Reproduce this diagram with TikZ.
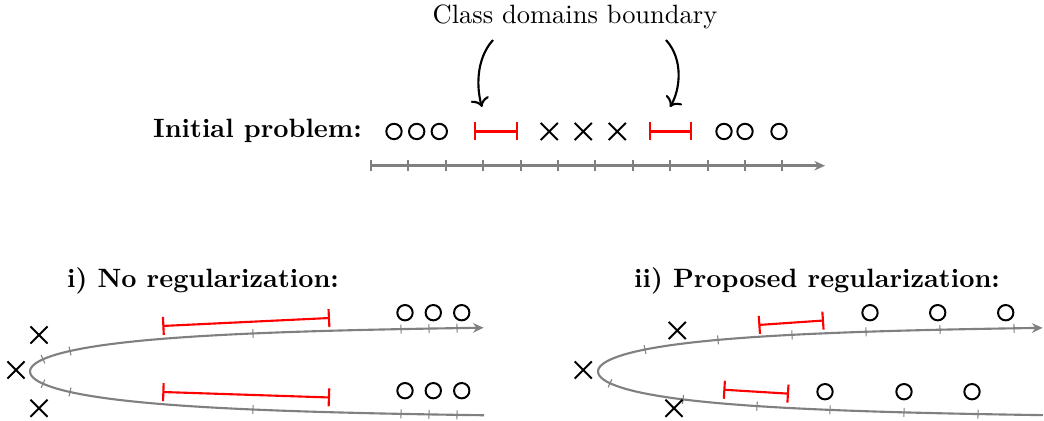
\documentclass[tikz,border=0pt]{standalone}
\usetikzlibrary{arrows.meta,shapes.misc,calc}
\tikzset{
  omark/.style={circle, draw, line width=0.75pt, minimum size=5.8pt, inner sep=0pt},
  xmark/.style={cross out, draw, line width=0.75pt, minimum size=5.7pt, inner sep=0pt},
  interval/.style={red, line width=0.8pt, {Bar[width=6.8pt]}-{Bar[width=6.8pt]}},
  axisline/.style={gray, line width=1pt, -{Stealth[length=4pt,width=3.6pt]}},
  axistick/.style={gray, line width=0.8pt},
  foldcurve/.style={gray, thick, -{Stealth[length=4pt,width=3.6pt]}},
  foldtick/.style={gray, thin},
  bndarrow/.style={thick, ->},
  title/.style={font=\bfseries}
}
\begin{document}
\begin{tikzpicture}[x=0.3775pt, y=-0.3775pt]
  \useasboundingbox (0,0) rectangle (1044,421);
  % Initial problem
  \node (cdb) at (575,17) {Class domains boundary};
  \node[title] (ini) at (257.5,131) {Initial problem:};
  \draw[axisline] (371,165.7) -- (825,165.7);
  \foreach \i in {0,...,11}
    \draw[axistick] (371+37.4*\i,160) -- (371+37.4*\i,171.4);
  \node[omark] (o1) at (394,131.5) {};
  \node[omark] (o2) at (416.7,131.5) {};
  \node[omark] (o3) at (439.3,131.5) {};
  \node[xmark] (x1) at (549.3,131.5) {};
  \node[xmark] (x2) at (583.3,131.5) {};
  \node[xmark] (x3) at (617.3,131.5) {};
  \node[omark] (o4) at (724,131.5) {};
  \node[omark] (o5) at (745,131.5) {};
  \node[omark] (o6) at (779,131.5) {};
  \coordinate (bndLa) at (474.3,131.5); \coordinate (bndLb) at (517.7,131.5);
  \coordinate (bndRa) at (648.7,131.5); \coordinate (bndRb) at (692.3,131.5);
  \draw[interval] (bndLa) -- (bndLb);
  \draw[interval] (bndRa) -- (bndRb);
  % Arrows to the boundaries
  \coordinate (cdbL) at (493,40); \coordinate (cdbR) at (666,40);
  \coordinate (tipL) at (482,107); \coordinate (tipR) at (670,107);
  \draw[bndarrow] (cdbL) .. controls (475,60) and (477,90) .. (tipL);
  \draw[bndarrow] (cdbR) .. controls (684,60) and (680,90) .. (tipR);
  % Folded axes
  \node[title] (noreg) at (203,281) {i) No regularization:};
  \node[title] (propreg) at (817,281) {ii) Proposed regularization:};
  \draw[foldcurve] plot[domain=-1.538:1.538, samples=80, variable=\s]
    ({30+192*\s*\s}, {371.5-48*tanh(\s)});
  \draw[foldcurve] plot[domain=-1.522:1.522, samples=80, variable=\s]
    ({598+192*\s*\s}, {371.5-48*tanh(\s)});
  % Ticks on the folded axes
  \foreach \x/\d/\b in {30/13/1, 30/40/1, 30/223/1, 30/371/1, 30/399/1, 30/427/1,
      30/13/-1, 30/40/-1, 30/223/-1, 30/371/-1, 30/399/-1, 30/427/-1,
      598/47/1, 598/120/1, 598/194/1, 598/268/1, 598/342/1, 598/416/1,
      598/12/-1, 598/85/-1, 598/159/-1, 598/232/-1, 598/306/-1, 598/380/-1} {
    \pgfmathsetmacro\s{sqrt(\d/192)}
    \pgfmathsetmacro\t{tanh(\s)}
    \pgfmathsetmacro\a{atan2(-\b*48*(1-\t*\t), 384*\s)}
    \draw[foldtick] (\x+\d, 371.5-\b*48*\t) ++(\a+90:4.5) -- ++(\a-90:9);
  }
  % Markers, no regularization
  \node[xmark] (ax1) at (39,335) {};
  \node[xmark] (ax2) at (16,370) {};
  \node[xmark] (ax3) at (39,408.3) {};
  \foreach \x [count=\k] in {405,433.3,461.7} {
    \node[omark] (au\k) at (\x,312.7) {};
    \node[omark] (al\k) at (\x,390.7) {};
  }
  \coordinate (aua) at (162.3,326); \coordinate (aub) at (330,318);
  \coordinate (ala) at (162.3,392); \coordinate (alb) at (330,397.5);
  \draw[interval] (aua) -- (aub);
  \draw[interval] (ala) -- (alb);
  % Markers, proposed regularization
  \node[xmark] (bx1) at (677.3,330.5) {};
  \node[xmark] (bx2) at (583.3,370) {};
  \node[xmark] (bx3) at (674,408.3) {};
  \foreach \x [count=\k] in {870,937.7,1005.7}
    \node[omark] (bu\k) at (\x,312.7) {};
  \foreach \x [count=\k] in {825,904,972}
    \node[omark] (bl\k) at (\x,391.7) {};
  \coordinate (bua) at (758.3,325); \coordinate (bub) at (824,320.5);
  \coordinate (bla) at (723.3,389.7); \coordinate (blb) at (789,393.7);
  \draw[interval] (bua) -- (bub);
  \draw[interval] (bla) -- (blb);
\end{tikzpicture}
\end{document}
